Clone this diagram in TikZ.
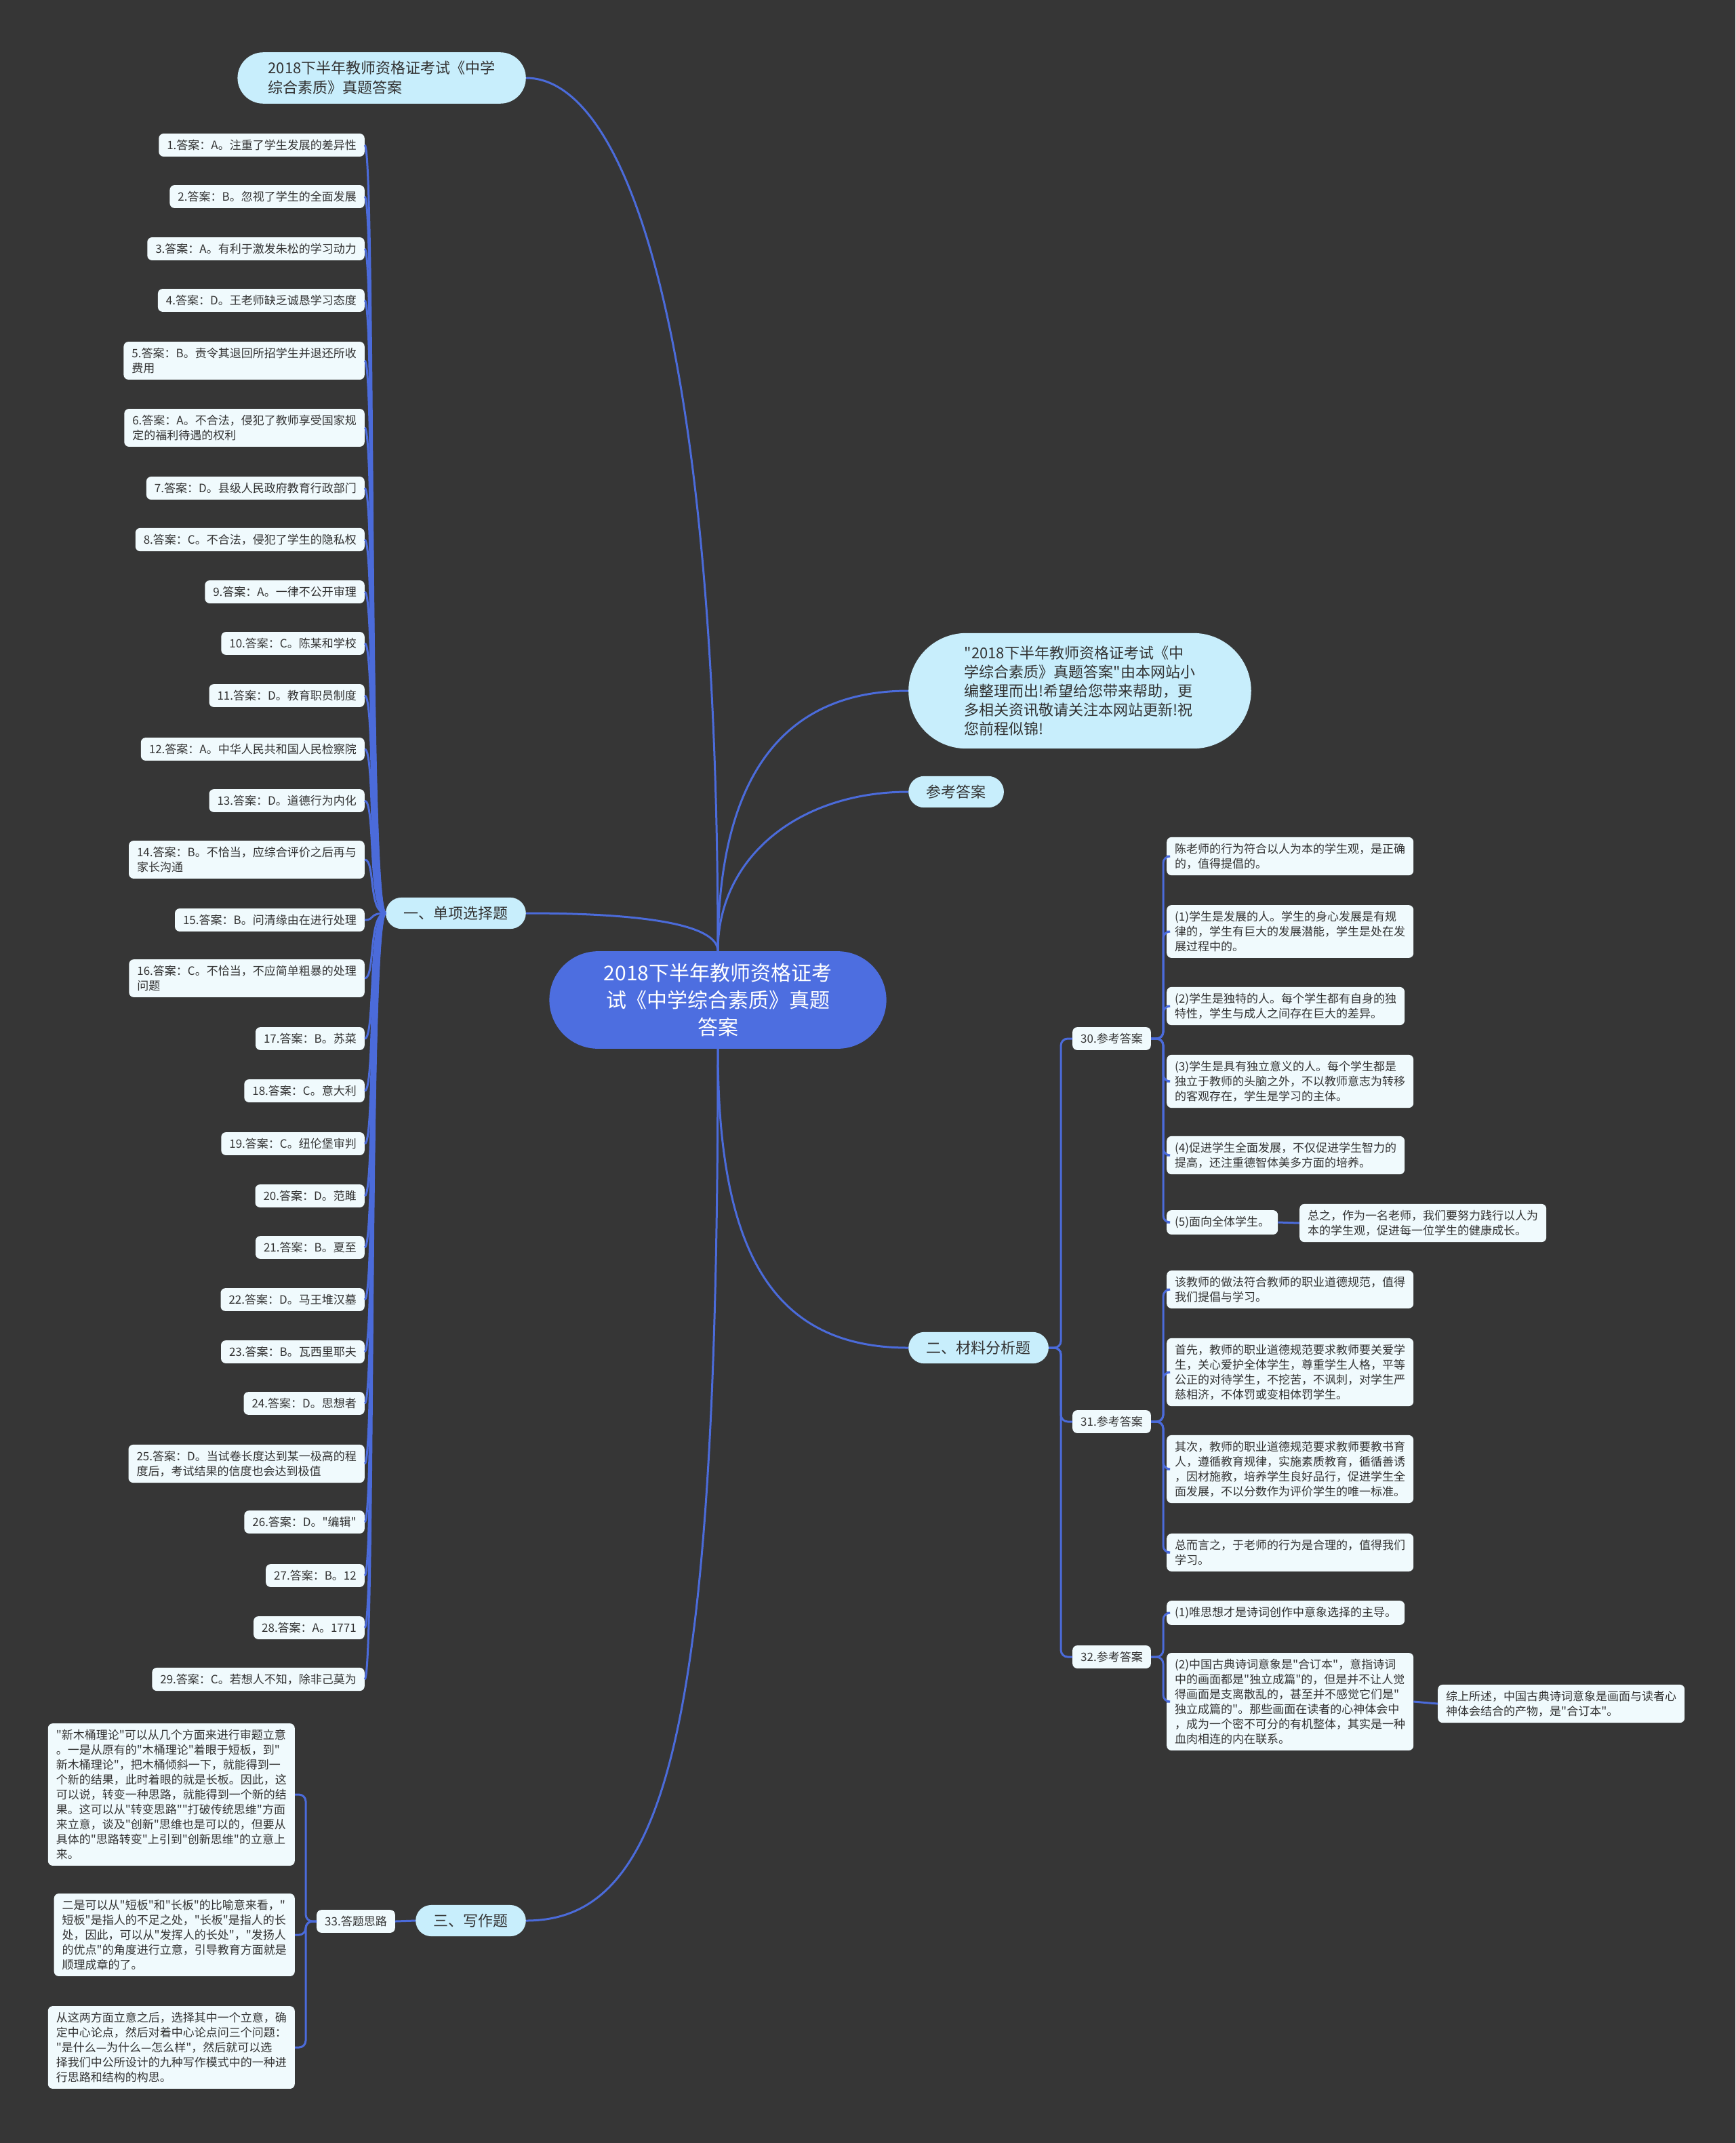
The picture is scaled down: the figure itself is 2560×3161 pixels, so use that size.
\documentclass[tikz,border=0pt]{standalone}
\usepackage{fontspec}
\setmainfont{Noto Sans CJK SC}[Ligatures=TeXOff]
\usetikzlibrary{positioning,shapes.misc}
\definecolor{canvas}{HTML}{363636}
\definecolor{rootblue}{HTML}{4D6EE0}
\definecolor{linkblue}{HTML}{4B6BDA}
\definecolor{pale}{HTML}{C8EEFC}
\definecolor{cardfill}{HTML}{F0FAFD}
\definecolor{ink}{HTML}{333333}

\tikzset{
  link/.style={draw=linkblue, line width=3pt},
  bracket/.style={link, rounded corners=10pt},
  hubnode/.style={rounded rectangle, fill=rootblue, text=white, align=center,
    inner xsep=56pt, inner ysep=18pt, font=\fontsize{30}{40}\selectfont},
  topic/.style={rounded rectangle, fill=pale, text=ink, align=left,
    inner xsep=24pt, inner ysep=13pt, font=\fontsize{22}{29}\selectfont},
  answer/.style={fill=cardfill, rounded corners=7pt, text=ink, align=left,
    inner xsep=12pt, inner ysep=9pt, font=\fontsize{17}{22}\selectfont},
}

\begin{document}
\begin{tikzpicture}[x=1pt, y=-1pt]
  \fill[canvas] (0,0) rectangle (2560,3161);
  \useasboundingbox (0,0) rectangle (2560,3161);

  % centre and main branches
  \node[hubnode] (hub) at (1059,1475) {2018下半年教师资格证考\\试《中学综合素质》真题\\答案};
  \node[topic, anchor=east, inner xsep=36pt] (cap) at (776,115) {2018下半年教师资格证考试《中学\\综合素质》真题答案};
  \node[topic, anchor=west, inner ysep=19pt, inner xsep=51pt, font=\fontsize{22}{28}\selectfont] (intro) at (1340,1019)
    {"2018下半年教师资格证考试《中\\学综合素质》真题答案"由本网站小\\编整理而出!希望给您带来帮助，更\\多相关资讯敬请关注本网站更新!祝\\您前程似锦!};
  \node[topic, anchor=west] (ref) at (1340,1168) {参考答案};
  \node[topic, anchor=east] (sec1) at (776,1347) {一、单项选择题};
  \node[topic, anchor=west] (sec2) at (1340,1988) {二、材料分析题};
  \node[topic, anchor=east] (sec3) at (776,2833) {三、写作题};

  \draw[link] (cap.east) .. controls +(150,0) and +(0,-900) .. (hub.north);
  \draw[link] (hub.north) .. controls +(0,-250) and +(-190,0) .. (intro.west);
  \draw[link] (hub.north) .. controls +(0,-140) and +(-160,0) .. (ref.west);
  \draw[link] (sec1.east) .. controls +(170,0) and +(0,-40) .. (hub.north);
  \draw[link] (hub.south) .. controls +(0,300) and +(-200,0) .. (sec2.west);
  \draw[link] (hub.south) .. controls +(0,1000) and +(210,0) .. (sec3.east);

  % single choice answers
  \node[answer, anchor=east] (a1) at (538,214) {1.答案：A。注重了学生发展的差异性};
  \node[answer, anchor=east] (a2) at (538,290) {2.答案：B。忽视了学生的全面发展};
  \node[answer, anchor=east] (a3) at (538,367) {3.答案：A。有利于激发朱松的学习动力};
  \node[answer, anchor=east] (a4) at (538,443) {4.答案：D。王老师缺乏诚恳学习态度};
  \node[answer, anchor=east] (a5) at (538,532) {5.答案：B。责令其退回所招学生并退还所收\\费用};
  \node[answer, anchor=east] (a6) at (538,631) {6.答案：A。不合法，侵犯了教师享受国家规\\定的福利待遇的权利};
  \node[answer, anchor=east] (a7) at (538,720) {7.答案：D。县级人民政府教育行政部门};
  \node[answer, anchor=east] (a8) at (538,796) {8.答案：C。不合法，侵犯了学生的隐私权};
  \node[answer, anchor=east] (a9) at (538,873) {9.答案：A。一律不公开审理};
  \node[answer, anchor=east] (a10) at (538,949) {10.答案：C。陈某和学校};
  \node[answer, anchor=east] (a11) at (538,1026) {11.答案：D。教育职员制度};
  \node[answer, anchor=east] (a12) at (538,1105) {12.答案：A。中华人民共和国人民检察院};
  \node[answer, anchor=east] (a13) at (538,1181) {13.答案：D。道德行为内化};
  \node[answer, anchor=east] (a14) at (538,1268) {14.答案：B。不恰当，应综合评价之后再与\\家长沟通};
  \node[answer, anchor=east] (a15) at (538,1357) {15.答案：B。问清缘由在进行处理};
  \node[answer, anchor=east] (a16) at (538,1443) {16.答案：C。不恰当，不应简单粗暴的处理\\问题};
  \node[answer, anchor=east] (a17) at (538,1532) {17.答案：B。苏菜};
  \node[answer, anchor=east] (a18) at (538,1609) {18.答案：C。意大利};
  \node[answer, anchor=east] (a19) at (538,1687) {19.答案：C。纽伦堡审判};
  \node[answer, anchor=east] (a20) at (538,1764) {20.答案：D。范雎};
  \node[answer, anchor=east] (a21) at (538,1840) {21.答案：B。夏至};
  \node[answer, anchor=east] (a22) at (538,1917) {22.答案：D。马王堆汉墓};
  \node[answer, anchor=east] (a23) at (538,1994) {23.答案：B。瓦西里耶夫};
  \node[answer, anchor=east] (a24) at (538,2070) {24.答案：D。思想者};
  \node[answer, anchor=east] (a25) at (538,2159) {25.答案：D。当试卷长度达到某一极高的程\\度后，考试结果的信度也会达到极值};
  \node[answer, anchor=east] (a26) at (538,2245) {26.答案：D。"编辑"};
  \node[answer, anchor=east] (a27) at (538,2324) {27.答案：B。12};
  \node[answer, anchor=east] (a28) at (538,2401) {28.答案：A。1771};
  \node[answer, anchor=east] (a29) at (538,2477) {29.答案：C。若想人不知，除非己莫为};

  \draw[link] (sec1.west) .. controls +(-26,0) and +(16,0) .. (a1.east);
  \draw[link] (sec1.west) .. controls +(-26,0) and +(16,0) .. (a2.east);
  \draw[link] (sec1.west) .. controls +(-26,0) and +(16,0) .. (a3.east);
  \draw[link] (sec1.west) .. controls +(-26,0) and +(16,0) .. (a4.east);
  \draw[link] (sec1.west) .. controls +(-26,0) and +(16,0) .. (a5.east);
  \draw[link] (sec1.west) .. controls +(-26,0) and +(16,0) .. (a6.east);
  \draw[link] (sec1.west) .. controls +(-26,0) and +(16,0) .. (a7.east);
  \draw[link] (sec1.west) .. controls +(-26,0) and +(16,0) .. (a8.east);
  \draw[link] (sec1.west) .. controls +(-26,0) and +(16,0) .. (a9.east);
  \draw[link] (sec1.west) .. controls +(-26,0) and +(16,0) .. (a10.east);
  \draw[link] (sec1.west) .. controls +(-26,0) and +(16,0) .. (a11.east);
  \draw[link] (sec1.west) .. controls +(-26,0) and +(16,0) .. (a12.east);
  \draw[link] (sec1.west) .. controls +(-26,0) and +(16,0) .. (a13.east);
  \draw[link] (sec1.west) .. controls +(-26,0) and +(16,0) .. (a14.east);
  \draw[link] (sec1.west) .. controls +(-26,0) and +(16,0) .. (a15.east);
  \draw[link] (sec1.west) .. controls +(-26,0) and +(16,0) .. (a16.east);
  \draw[link] (sec1.west) .. controls +(-26,0) and +(16,0) .. (a17.east);
  \draw[link] (sec1.west) .. controls +(-26,0) and +(16,0) .. (a18.east);
  \draw[link] (sec1.west) .. controls +(-26,0) and +(16,0) .. (a19.east);
  \draw[link] (sec1.west) .. controls +(-26,0) and +(16,0) .. (a20.east);
  \draw[link] (sec1.west) .. controls +(-26,0) and +(16,0) .. (a21.east);
  \draw[link] (sec1.west) .. controls +(-26,0) and +(16,0) .. (a22.east);
  \draw[link] (sec1.west) .. controls +(-26,0) and +(16,0) .. (a23.east);
  \draw[link] (sec1.west) .. controls +(-26,0) and +(16,0) .. (a24.east);
  \draw[link] (sec1.west) .. controls +(-26,0) and +(16,0) .. (a25.east);
  \draw[link] (sec1.west) .. controls +(-26,0) and +(16,0) .. (a26.east);
  \draw[link] (sec1.west) .. controls +(-26,0) and +(16,0) .. (a27.east);
  \draw[link] (sec1.west) .. controls +(-26,0) and +(16,0) .. (a28.east);
  \draw[link] (sec1.west) .. controls +(-26,0) and +(16,0) .. (a29.east);

  % material analysis
  \node[answer, anchor=west] (k30) at (1582,1532) {30.参考答案};
  \node[answer, anchor=west] (k31) at (1582,2097) {31.参考答案};
  \node[answer, anchor=west] (k32) at (1582,2444) {32.参考答案};
  \draw[bracket] (sec2.east) -- ++(18,0) |- (k30.west);
  \draw[bracket] (sec2.east) -- ++(18,0) |- (k31.west);
  \draw[bracket] (sec2.east) -- ++(18,0) |- (k32.west);

  \node[answer, anchor=west] (p1) at (1721,1263) {陈老师的行为符合以人为本的学生观，是正确\\的，值得提倡的。};
  \node[answer, anchor=west] (p2) at (1721,1374) {(1)学生是发展的人。学生的身心发展是有规\\律的，学生有巨大的发展潜能，学生是处在发\\展过程中的。};
  \node[answer, anchor=west] (p3) at (1721,1484) {(2)学生是独特的人。每个学生都有自身的独\\特性，学生与成人之间存在巨大的差异。};
  \node[answer, anchor=west] (p4) at (1721,1595) {(3)学生是具有独立意义的人。每个学生都是\\独立于教师的头脑之外，不以教师意志为转移\\的客观存在，学生是学习的主体。};
  \node[answer, anchor=west] (p5) at (1721,1704) {(4)促进学生全面发展，不仅促进学生智力的\\提高，还注重德智体美多方面的培养。};
  \node[answer, anchor=west] (p6) at (1721,1803) {(5)面向全体学生。};
  \node[answer, anchor=west] (p7) at (1917,1804) {总之，作为一名老师，我们要努力践行以人为\\本的学生观，促进每一位学生的健康成长。};
  \draw[bracket] (k30.east) -- ++(18,0) |- (p1.west);
  \draw[bracket] (k30.east) -- ++(18,0) |- (p2.west);
  \draw[bracket] (k30.east) -- ++(18,0) |- (p3.west);
  \draw[bracket] (k30.east) -- ++(18,0) |- (p4.west);
  \draw[bracket] (k30.east) -- ++(18,0) |- (p5.west);
  \draw[bracket] (k30.east) -- ++(18,0) |- (p6.west);
  \draw[link] (p6.east) -- (p7.west);

  \node[answer, anchor=west] (m1) at (1721,1902) {该教师的做法符合教师的职业道德规范，值得\\我们提倡与学习。};
  \node[answer, anchor=west] (m2) at (1721,2024) {首先，教师的职业道德规范要求教师要关爱学\\生，关心爱护全体学生，尊重学生人格，平等\\公正的对待学生，不挖苦，不讽刺，对学生严\\慈相济，不体罚或变相体罚学生。};
  \node[answer, anchor=west] (m3) at (1721,2167) {其次，教师的职业道德规范要求教师要教书育\\人，遵循教育规律，实施素质教育，循循善诱\\，因材施教，培养学生良好品行，促进学生全\\面发展，不以分数作为评价学生的唯一标准。};
  \node[answer, anchor=west] (m4) at (1721,2290) {总而言之，于老师的行为是合理的，值得我们\\学习。};
  \draw[bracket] (k31.east) -- ++(18,0) |- (m1.west);
  \draw[bracket] (k31.east) -- ++(18,0) |- (m2.west);
  \draw[bracket] (k31.east) -- ++(18,0) |- (m3.west);
  \draw[bracket] (k31.east) -- ++(18,0) |- (m4.west);

  \node[answer, anchor=west] (s1) at (1721,2379) {(1)唯思想才是诗词创作中意象选择的主导。};
  \node[answer, anchor=west] (s2) at (1721,2510) {(2)中国古典诗词意象是"合订本"，意指诗词\\中的画面都是"独立成篇"的，但是并不让人觉\\得画面是支离散乱的，甚至并不感觉它们是"\\独立成篇的"。那些画面在读者的心神体会中\\，成为一个密不可分的有机整体，其实是一种\\血肉相连的内在联系。};
  \node[answer, anchor=west] (s3) at (2121,2513) {综上所述，中国古典诗词意象是画面与读者心\\神体会结合的产物，是"合订本"。};
  \draw[bracket] (k32.east) -- ++(18,0) |- (s1.west);
  \draw[bracket] (k32.east) -- ++(18,0) |- (s2.west);
  \draw[link] (s2.east) -- (s3.west);

  % writing
  \node[answer, anchor=east] (k33) at (583,2834) {33.答题思路};
  \draw[link] (sec3.west) -- (k33.east);
  \node[answer, anchor=east] (w1) at (435,2647) {"新木桶理论"可以从几个方面来进行审题立意\\。一是从原有的"木桶理论"着眼于短板，到"\\新木桶理论"，把木桶倾斜一下，就能得到一\\个新的结果，此时着眼的就是长板。因此，这\\可以说，转变一种思路，就能得到一个新的结\\果。这可以从"转变思路""打破传统思维"方面\\来立意，谈及"创新"思维也是可以的，但要从\\具体的"思路转变"上引到"创新思维"的立意上\\来。};
  \node[answer, anchor=east] (w2) at (435,2854) {二是可以从"短板"和"长板"的比喻意来看，"\\短板"是指人的不足之处，"长板"是指人的长\\处，因此，可以从"发挥人的长处"，"发扬人\\的优点"的角度进行立意，引导教育方面就是\\顺理成章的了。};
  \node[answer, anchor=east] (w3) at (435,3020) {从这两方面立意之后，选择其中一个立意，确\\定中心论点，然后对着中心论点问三个问题：\\"是什么—为什么—怎么样"，然后就可以选\\择我们中公所设计的九种写作模式中的一种进\\行思路和结构的构思。};
  \draw[bracket] (k33.west) -- ++(-16,0) |- (w1.east);
  \draw[bracket] (k33.west) -- ++(-16,0) |- (w2.east);
  \draw[bracket] (k33.west) -- ++(-16,0) |- (w3.east);
\end{tikzpicture}
\end{document}
